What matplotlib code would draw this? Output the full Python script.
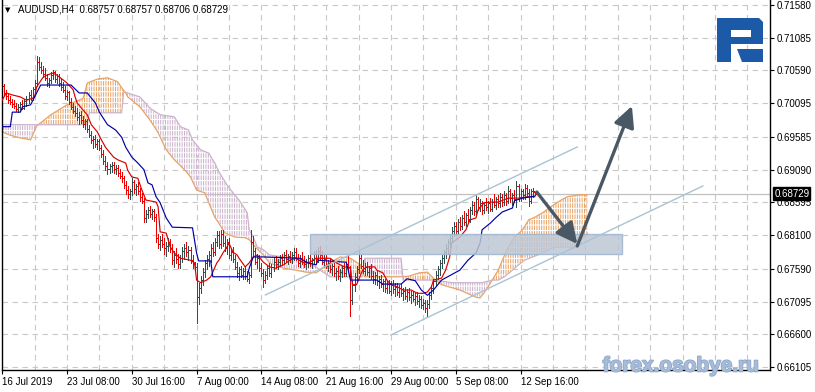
import numpy as np
import matplotlib
matplotlib.use("Agg")
import matplotlib.pyplot as plt
import matplotlib.patheffects as pe
from matplotlib.patches import Rectangle, Polygon, FancyArrowPatch

plt.rcParams['font.family'] = ['Liberation Sans', 'DejaVu Sans']
plt.rcParams['hatch.linewidth'] = 0.75

# ---------------- data ----------------
opens = [
 .7034,.7036,.7025,.7020,.7014,.7012, .7008,.7005,.7001,.7004,.7009,.7003,
 .7013,.7016,.7022,.7018,.7031,.7040, .7072,.7064,.7060,.7054,.7048,.7040,
 .7044,.7052,.7056,.7046,.7050,.7040, .7034,.7030,.7020,.7026,.7012,.7004,
 .6998,.6994,.6988,.6992,.6984,.6978, .6982,.6970,.6962,.6954,.6956,.6948,
 .6952,.6942,.6932,.6922,.6914,.6910, .6914,.6916,.6910,.6912,.6904,.6900,
 .6896,.6886,.6878,.6872,.6876,.6890, .6880,.6884,.6876,.6868,.6862,.6836,
 .6842,.6848,.6842,.6846,.6838,.6806, .6796,.6802,.6796,.6790,.6794,.6800,
 .6790,.6772,.6780,.6774,.6766,.6776, .6786,.6790,.6784,.6788,.6772,.6766,
 .6762,.6716,.6730,.6742,.6754,.6768, .6774,.6780,.6790,.6784,.6800,.6810,
 .6796,.6812,.6798,.6790,.6800,.6780, .6784,.6774,.6762,.6752,.6758,.6750,
 .6756,.6748,.6744,.6750,.6800,.6786, .6770,.6776,.6760,.6752,.6742,.6750,
 .6760,.6752,.6762,.6770,.6766,.6770, .6776,.6772,.6780,.6774,.6778,.6774,
 .6780,.6784,.6776,.6768,.6776,.6770, .6766,.6770,.6776,.6768,.6772,.6782,
 .6774,.6786,.6780,.6770,.6774,.6764, .6768,.6758,.6764,.6752,.6756,.6748,
 .6754,.6760,.6752,.6766,.6762,.6712, .6734,.6746,.6758,.6776,.6764,.6756,
 .6762,.6754,.6760,.6748,.6744,.6750, .6740,.6744,.6736,.6740,.6730,.6736,
 .6726,.6734,.6728,.6732,.6724,.6730, .6722,.6726,.6718,.6724,.6716,.6720,
 .6714,.6718,.6710,.6714,.6704,.6708, .6700,.6706,.6720,.6730,.6740,.6750,
 .6758,.6768,.6776,.6784,.6790,.6800, .6806,.6816,.6824,.6816,.6830,.6824,
 .6836,.6830,.6840,.6834,.6848,.6856, .6846,.6864,.6852,.6858,.6848,.6856,
 .6852,.6858,.6850,.6860,.6856,.6864, .6858,.6868,.6860,.6870,.6862,.6876,
 .6866,.6870,.6864,.6884,.6868,.6876, .6870,.6882,.6874,.6862,.6876,.68757]
highs = [
 .7040,.7038,.7030,.7024,.7020,.7016, .7014,.7010,.7008,.7012,.7015,.7016,
 .7020,.7026,.7030,.7034,.7044,.7081, .7079,.7072,.7066,.7062,.7054,.7048,
 .7056,.7060,.7058,.7054,.7054,.7046, .7042,.7036,.7030,.7028,.7018,.7010,
 .7006,.7002,.6996,.6998,.6990,.6986, .6986,.6976,.6968,.6960,.6962,.6956,
 .6956,.6946,.6938,.6930,.6920,.6918, .6920,.6920,.6916,.6916,.6910,.6906,
 .6900,.6892,.6884,.6880,.6896,.6894, .6888,.6890,.6882,.6874,.6866,.6848,
 .6852,.6854,.6850,.6850,.6842,.6812, .6808,.6812,.6806,.6800,.6806,.6804,
 .6796,.6786,.6790,.6782,.6780,.6792, .6796,.6800,.6794,.6792,.6780,.6770,
 .6768,.6738,.6748,.6760,.6772,.6780, .6786,.6796,.6800,.6806,.6816,.6816,
 .6818,.6818,.6808,.6804,.6806,.6790, .6792,.6780,.6770,.6762,.6764,.6760,
 .6762,.6756,.6754,.6818,.6808,.6790, .6782,.6780,.6768,.6758,.6756,.6764,
 .6768,.6766,.6776,.6778,.6774,.6780, .6782,.6784,.6788,.6782,.6786,.6784,
 .6790,.6790,.6782,.6780,.6784,.6778, .6774,.6780,.6782,.6776,.6786,.6788,
 .6792,.6794,.6786,.6780,.6780,.6772, .6774,.6768,.6770,.6760,.6764,.6758,
 .6764,.6768,.6770,.6778,.6764,.6740, .6752,.6764,.6786,.6780,.6772,.6768,
 .6770,.6764,.6766,.6756,.6754,.6756, .6748,.6750,.6744,.6744,.6740,.6742,
 .6740,.6742,.6738,.6738,.6734,.6736, .6730,.6732,.6728,.6730,.6726,.6726,
 .6722,.6724,.6720,.6718,.6714,.6712, .6712,.6724,.6734,.6744,.6756,.6764,
 .6772,.6780,.6788,.6796,.6804,.6812, .6822,.6830,.6830,.6834,.6838,.6840,
 .6846,.6844,.6850,.6852,.6862,.6860, .6870,.6868,.6864,.6862,.6860,.6866,
 .6862,.6866,.6864,.6872,.6868,.6870, .6874,.6872,.6876,.6874,.6884,.6880,
 .6874,.6878,.6892,.6888,.6880,.6880, .6888,.6886,.6880,.6880,.6882,.68757]
lows = [
 .7028,.7022,.7016,.7010,.7008,.7004, .7002,.6998,.6996,.6999,.7000,.7001,
 .7006,.7010,.7014,.7015,.7026,.7036, .7060,.7055,.7050,.7044,.7036,.7034,
 .7040,.7046,.7042,.7040,.7036,.7030, .7026,.7016,.7014,.7008,.7000,.6994,
 .6990,.6984,.6978,.6980,.6974,.6970, .6966,.6958,.6950,.6942,.6944,.6940,
 .6938,.6928,.6918,.6908,.6902,.6904, .6906,.6904,.6902,.6900,.6896,.6890,
 .6882,.6872,.6866,.6864,.6870,.6874, .6870,.6872,.6862,.6858,.6830,.6830,
 .6836,.6838,.6834,.6832,.6800,.6790, .6788,.6792,.6782,.6778,.6786,.6784,
 .6766,.6762,.6768,.6760,.6760,.6770, .6774,.6778,.6772,.6768,.6760,.6756,
 .6677,.6706,.6722,.6734,.6746,.6758, .6764,.6770,.6778,.6780,.6794,.6790,
 .6790,.6794,.6786,.6782,.6776,.6772, .6770,.6758,.6746,.6742,.6746,.6744,
 .6744,.6740,.6738,.6746,.6780,.6766, .6760,.6756,.6748,.6732,.6738,.6744,
 .6748,.6746,.6756,.6760,.6758,.6764, .6766,.6768,.6770,.6766,.6770,.6768,
 .6772,.6772,.6764,.6762,.6766,.6762, .6758,.6762,.6764,.6760,.6766,.6770,
 .6770,.6774,.6766,.6762,.6760,.6756, .6754,.6750,.6748,.6742,.6744,.6740,
 .6746,.6748,.6748,.6756,.6687,.6706, .6726,.6740,.6752,.6760,.6752,.6750,
 .6750,.6746,.6744,.6738,.6736,.6734, .6730,.6732,.6726,.6724,.6722,.6722,
 .6720,.6722,.6718,.6720,.6716,.6718, .6712,.6714,.6710,.6712,.6708,.6710,
 .6704,.6706,.6702,.6700,.6698,.6694, .6687,.6700,.6714,.6722,.6734,.6744,
 .6750,.6760,.6768,.6776,.6782,.6792, .6800,.6808,.6810,.6812,.6818,.6820,
 .6826,.6824,.6830,.6830,.6842,.6840, .6842,.6848,.6846,.6842,.6844,.6848,
 .6844,.6846,.6846,.6852,.6850,.6852, .6852,.6854,.6856,.6856,.6858,.6860,
 .6856,.6860,.6852,.6862,.6862,.6864, .6864,.6868,.6854,.6858,.6868,.68706]
closes = [
 .7036,.7025,.7020,.7014,.7012,.7008, .7005,.7001,.7004,.7009,.7003,.7013,
 .7016,.7022,.7018,.7031,.7040,.7072, .7064,.7060,.7054,.7048,.7040,.7044,
 .7052,.7056,.7046,.7050,.7040,.7034, .7030,.7020,.7026,.7012,.7004,.6998,
 .6994,.6988,.6992,.6984,.6978,.6982, .6970,.6962,.6954,.6956,.6948,.6952,
 .6942,.6932,.6922,.6914,.6910,.6914, .6916,.6910,.6912,.6904,.6900,.6896,
 .6886,.6878,.6872,.6876,.6890,.6880, .6884,.6876,.6868,.6862,.6836,.6842,
 .6848,.6842,.6846,.6838,.6806,.6796, .6802,.6796,.6790,.6794,.6800,.6790,
 .6772,.6780,.6774,.6766,.6776,.6786, .6790,.6784,.6788,.6772,.6766,.6762,
 .6716,.6730,.6742,.6754,.6768,.6774, .6780,.6790,.6784,.6800,.6810,.6796,
 .6812,.6798,.6790,.6800,.6780,.6784, .6774,.6762,.6752,.6758,.6750,.6756,
 .6748,.6744,.6750,.6800,.6786,.6770, .6776,.6760,.6752,.6742,.6750,.6760,
 .6752,.6762,.6770,.6766,.6770,.6776, .6772,.6780,.6774,.6778,.6774,.6780,
 .6784,.6776,.6768,.6776,.6770,.6766, .6770,.6776,.6768,.6772,.6782,.6774,
 .6786,.6780,.6770,.6774,.6764,.6768, .6758,.6764,.6752,.6756,.6748,.6754,
 .6760,.6752,.6766,.6762,.6712,.6734, .6746,.6758,.6776,.6764,.6756,.6762,
 .6754,.6760,.6748,.6744,.6750,.6740, .6744,.6736,.6740,.6730,.6736,.6726,
 .6734,.6728,.6732,.6724,.6730,.6722, .6726,.6718,.6724,.6716,.6720,.6714,
 .6718,.6710,.6714,.6704,.6708,.6700, .6706,.6720,.6730,.6740,.6750,.6758,
 .6768,.6776,.6784,.6790,.6800,.6806, .6816,.6824,.6816,.6830,.6824,.6836,
 .6830,.6840,.6834,.6848,.6856,.6846, .6864,.6852,.6858,.6848,.6856,.6852,
 .6858,.6850,.6860,.6856,.6864,.6858, .6868,.6860,.6870,.6862,.6876,.6866,
 .6870,.6864,.6884,.6868,.6876,.6870, .6882,.6874,.6862,.6876,.6876,.68729]

tenkan_idx = [0,2,5,9,12,15,16,17,20,22,25,27,30,32,35,36,37,40,42,44,47,49,51,52,55,57,61,62,64,67,69,71,
              76,77,78,81,83,85,88,93,95,96,98,101,103,106,107,109,111,112,114,116,117,120,122,124,126,129,
              132,135,139,142,145,149,152,155,158,162,165,169,172,173,175,178,180,184,185,188,190,192,195,
              198,202,205,208,210,212,213,217,219,221,222,226,229,231,234,235,238,242,245,250,255,260,263]
tenkan_val = [.7014,.7025,.7022,.7019,.7014,.7017,.7019,.7034,.7048,.7052,.7055,.7052,.7045,.7040,.7030,.7019,
              .7010,.6999,.6992,.6977,.6966,.6954,.6943,.6939,.6928,.6924,.6919,.6908,.6898,.6896,.6878,.6863,
              .6860,.6853,.6815,.6813,.6792,.6783,.6775,.6772,.6768,.6742,.6738,.6742,.6747,.6768,.6772,.6783,
              .6792,.6798,.6784,.6780,.6775,.6762,.6768,.6777,.6780,.6769,.6762,.6760,.6765,.6772,.6775,.6768,
              .6769,.6775,.6775,.6775,.6768,.6762,.6760,.6735,.6735,.6757,.6762,.6762,.6757,.6753,.6742,.6735,
              .6732,.6727,.6727,.6722,.6722,.6724,.6732,.6742,.6745,.6757,.6777,.6798,.6807,.6818,.6833,.6836,
              .6848,.6859,.6860,.6860,.6866,.6866,.6868,.6868]

kijun_idx = [0,4,5,9,10,14,17,19,34,38,42,46,48,52,56,59,61,64,67,70,72,74,76,78,81,84,94,96,97,103,104,121,
             122,124,129,147,151,155,156,170,172,185,188,197,200,204,207,210,213,217,220,226,230,234,236,237,
             241,244,247,252,253,257,263]
kijun_val = [.6974,.6974,.6996,.6996,.7004,.7007,.7025,.7037,.7037,.7025,.7025,.7010,.6996,.6977,.6969,.6958,
             .6943,.6928,.6919,.6909,.6889,.6886,.6868,.6859,.6836,.6822,.6821,.6783,.6771,.6771,.6747,.6747,
             .6760,.6777,.6777,.6775,.6768,.6765,.6772,.6769,.6742,.6742,.6736,.6736,.6744,.6741,.6727,.6719,
             .6727,.6742,.6747,.6757,.6772,.6783,.6798,.6818,.6828,.6837,.6845,.6851,.6862,.6866,.6869]

span_a_idx = [0,4,9,14,15,17,24,32,38,40,42,47,52,57,59,61,62,68,73,77,81,85,90,93,96,100,105,107,110,115,
              120,122,125,129,132,139,145,150,155,157,162,167,172,177,179,197,201,206,210,214,217,226,234,236,
              239,242,245,247,250,253,257,260,263,267,271,276,279,285,289]
span_a_val = [.6966,.6961,.6957,.6954,.6961,.6975,.6992,.7007,.7014,.7017,.7040,.7046,.7048,.7042,.7033,.7025,
              .7019,.7004,.6984,.6965,.6939,.6924,.6909,.6898,.6878,.6874,.6837,.6828,.6813,.6807,.6806,.6803,
              .6792,.6780,.6768,.6760,.6757,.6754,.6753,.6757,.6769,.6777,.6775,.6765,.6747,.6747,.6748,.6753,
              .6754,.6742,.6735,.6727,.6716,.6715,.6727,.6742,.6757,.6772,.6792,.6807,.6818,.6833,.6837,.6844,
              .6853,.6863,.6868,.6871,.6871]
span_b_idx = [0,42,43,59,60,62,68,73,78,85,88,92,94,98,102,105,107,111,114,117,121,122,124,126,129,132,139,
              145,150,155,157,162,178,179,197,198,214,222,237,242,245,248,252,255,258,262,267,272,277,282,285,289]
span_b_val = [.6977,.6977,.6995,.6995,.7027,.7025,.7019,.7002,.6992,.6989,.6974,.6969,.6954,.6939,.6934,.6919,
              .6906,.6886,.6874,.6863,.6844,.6818,.6807,.6792,.6788,.6780,.6777,.6775,.6769,.6762,.6757,.6747,
              .6747,.6775,.6775,.6742,.6742,.6738,.6738,.6742,.6742,.6747,.6757,.6765,.6772,.6777,.6783,.6791,
              .6792,.6792,.6800,.6813]

price_ticks = [0.71580, 0.71085, 0.70590, 0.70095, 0.69585, 0.69090, 0.68595,
               0.68100, 0.67590, 0.67095, 0.66600, 0.66105]
time_tick_idx = [0, 32, 64, 96, 128, 160, 192, 224, 256]
time_tick_labels = ["16 Jul 2019", "23 Jul 08:00", "30 Jul 16:00", "7 Aug 00:00", "14 Aug 08:00",
                    "21 Aug 16:00", "29 Aug 00:00", "5 Sep 08:00", "12 Sep 16:00"]
last_price = 0.68729
title_text = "AUDUSD,H4  0.68757 0.68757 0.68706 0.68729"
watermark = "forex.osobye.ru"

channel_upper_idx = [130, 284]
channel_upper_val = [0.67195, 0.69433]
channel_lower_idx = [192, 346]
channel_lower_val = [0.66590, 0.68843]
zone_idx = [152, 306]
zone_val = [0.67815, 0.68117]
arrow1_idx = [264, 284]
arrow1_val = [0.68752, 0.67966]
arrow2_idx = [284, 311]
arrow2_val = [0.67936, 0.70053]

# ---------------- styling ----------------
UP = '#2F4F4F'
DN = '#EE0000'
TENKAN = '#D80000'
KIJUN = '#0000A8'
ORANGE = '#E8A468'
THISTLE = '#CCB3CC'
GRID = '#C8C8C8'

W, H = 815, 392
fig = plt.figure(figsize=(W / 100, H / 100), dpi=100)
ax = fig.add_axes([2 / W, 22 / H, 768 / W, 370 / H])
ax.set_xlim(-0.1, 379.2)
ax.set_ylim(0.66060, 0.71656)

# grid
for p in price_ticks:
    ax.axhline(p, color=GRID, lw=0.8, ls=(0, (5, 4)), zorder=0.2)
for k in range(16, 380, 16):
    ax.axvline(k, color=GRID, lw=0.8, ls=(0, (5, 4)), zorder=0.2)

# current price line
ax.axhline(last_price, color='#C0C0C0', lw=0.9, zorder=0.5)

# cloud
gi = np.arange(0, max(span_a_idx) + 1)
A = np.interp(gi, span_a_idx, span_a_val)
B = np.interp(gi, span_b_idx, span_b_val)
ax.fill_between(gi, A, B, where=A >= B, interpolate=True, facecolor='none',
                edgecolor=ORANGE, hatch='|||||||', lw=0, zorder=1)
ax.fill_between(gi, A, B, where=A < B, interpolate=True, facecolor='none',
                edgecolor=THISTLE, hatch='|||||||', lw=0, zorder=1)
ax.fill_between(gi, A, B, facecolor='none', edgecolor='white', hatch='---', lw=0, zorder=1.1)
ax.plot(span_a_idx, span_a_val, color=ORANGE, lw=0.9, zorder=1.2)
ax.plot(span_b_idx, span_b_val, color=THISTLE, lw=0.9, zorder=1.2)

# bars
o = np.array(opens); h = np.array(highs); l = np.array(lows); c = np.array(closes)
idx = np.arange(len(c))
up = c >= o
for mask, col in [(up, UP), (~up, DN)]:
    ax.vlines(idx[mask], l[mask], h[mask], color=col, lw=0.7, zorder=2, antialiased=False)
    ax.hlines(o[mask], idx[mask] - 0.4, idx[mask], color=col, lw=0.6, zorder=2, antialiased=False)
    ax.hlines(c[mask], idx[mask], idx[mask] + 0.4, color=col, lw=0.6, zorder=2, antialiased=False)

# ichimoku lines
ax.plot(tenkan_idx, tenkan_val, color=TENKAN, lw=0.85, zorder=3)
ax.plot(kijun_idx, kijun_val, color=KIJUN, lw=0.85, zorder=3)

# zone rectangle
ax.add_patch(Rectangle((zone_idx[0], zone_val[0]), zone_idx[1] - zone_idx[0], zone_val[1] - zone_val[0],
                       facecolor='#BCC7D4', alpha=0.85, edgecolor='#9CB6D2', lw=1.0, zorder=4))

# channel lines
ax.plot(channel_upper_idx, channel_upper_val, color='#A9C3D2', lw=1.0, zorder=4.5)
ax.plot(channel_lower_idx, channel_lower_val, color='#A9C3D2', lw=1.0, zorder=4.5)

# arrows
for ai, av in [(arrow1_idx, arrow1_val), (arrow2_idx, arrow2_val)]:
    ax.add_patch(FancyArrowPatch((ai[0], av[0]), (ai[1], av[1]),
                                 arrowstyle='-|>,head_length=0.9,head_width=0.45',
                                 mutation_scale=14, color='#4A5866', lw=2.4,
                                 shrinkA=0, shrinkB=0, zorder=5))

# axes / ticks
ax.spines['top'].set_visible(False)
for s in ['left', 'right', 'bottom']:
    ax.spines[s].set_color('black')
    ax.spines[s].set_linewidth(1.0)
ax.yaxis.tick_right()
ax.set_yticks(price_ticks)
ax.set_yticklabels([f'{p:.5f}' for p in price_ticks])
ax.tick_params(axis='y', direction='out', length=3, width=0.8, pad=1.5, labelsize=7)
ax.set_xticks(time_tick_idx)
ax.set_xticklabels(time_tick_labels)
ax.tick_params(axis='x', direction='out', length=3, width=0.8, pad=2, labelsize=7)
for lbl in ax.get_xticklabels():
    lbl.set_horizontalalignment('left')

# last price label
ax.annotate(f'{last_price:.5f}', xy=(1, last_price), xycoords=('axes fraction', 'data'),
            xytext=(3, 0), textcoords='offset points', color='white', fontsize=7,
            va='center', ha='left', zorder=10, annotation_clip=False,
            bbox=dict(boxstyle='square,pad=0.12', fc='black', ec='black'))

def px(x, y):
    return (x / W, 1 - y / H)

# title
fig.text(*px(5, 10), '\u25BC', fontsize=5, va='center', ha='left', family='DejaVu Sans')
fig.text(*px(18, 10), title_text, fontsize=7, va='center', ha='left')

# logo
logo_c = '#1C59A6'
fig.patches.append(Polygon([px(717, 18), px(759, 18), px(763, 22), px(763, 44), px(731, 44),
                            px(731, 62), px(717, 62)], closed=True, transform=fig.transFigure,
                           facecolor=logo_c, edgecolor='none'))
fig.patches.append(Polygon([px(731, 30), px(751, 30), px(751, 37), px(731, 37)], closed=True,
                           transform=fig.transFigure, facecolor='white', edgecolor='none'))
fig.patches.append(Polygon([px(737, 49), px(763, 49), px(763, 62), px(742, 62)], closed=True,
                           transform=fig.transFigure, facecolor=logo_c, edgecolor='none'))

# watermark
fig.text(*px(760, 366), watermark, fontsize=15, fontweight='bold', color='#A8BCD8',
         ha='right', va='center', family='Liberation Sans',
         path_effects=[pe.withStroke(linewidth=1.2, foreground='#8FA7CA')])

fig.savefig('out.png', dpi=100)
